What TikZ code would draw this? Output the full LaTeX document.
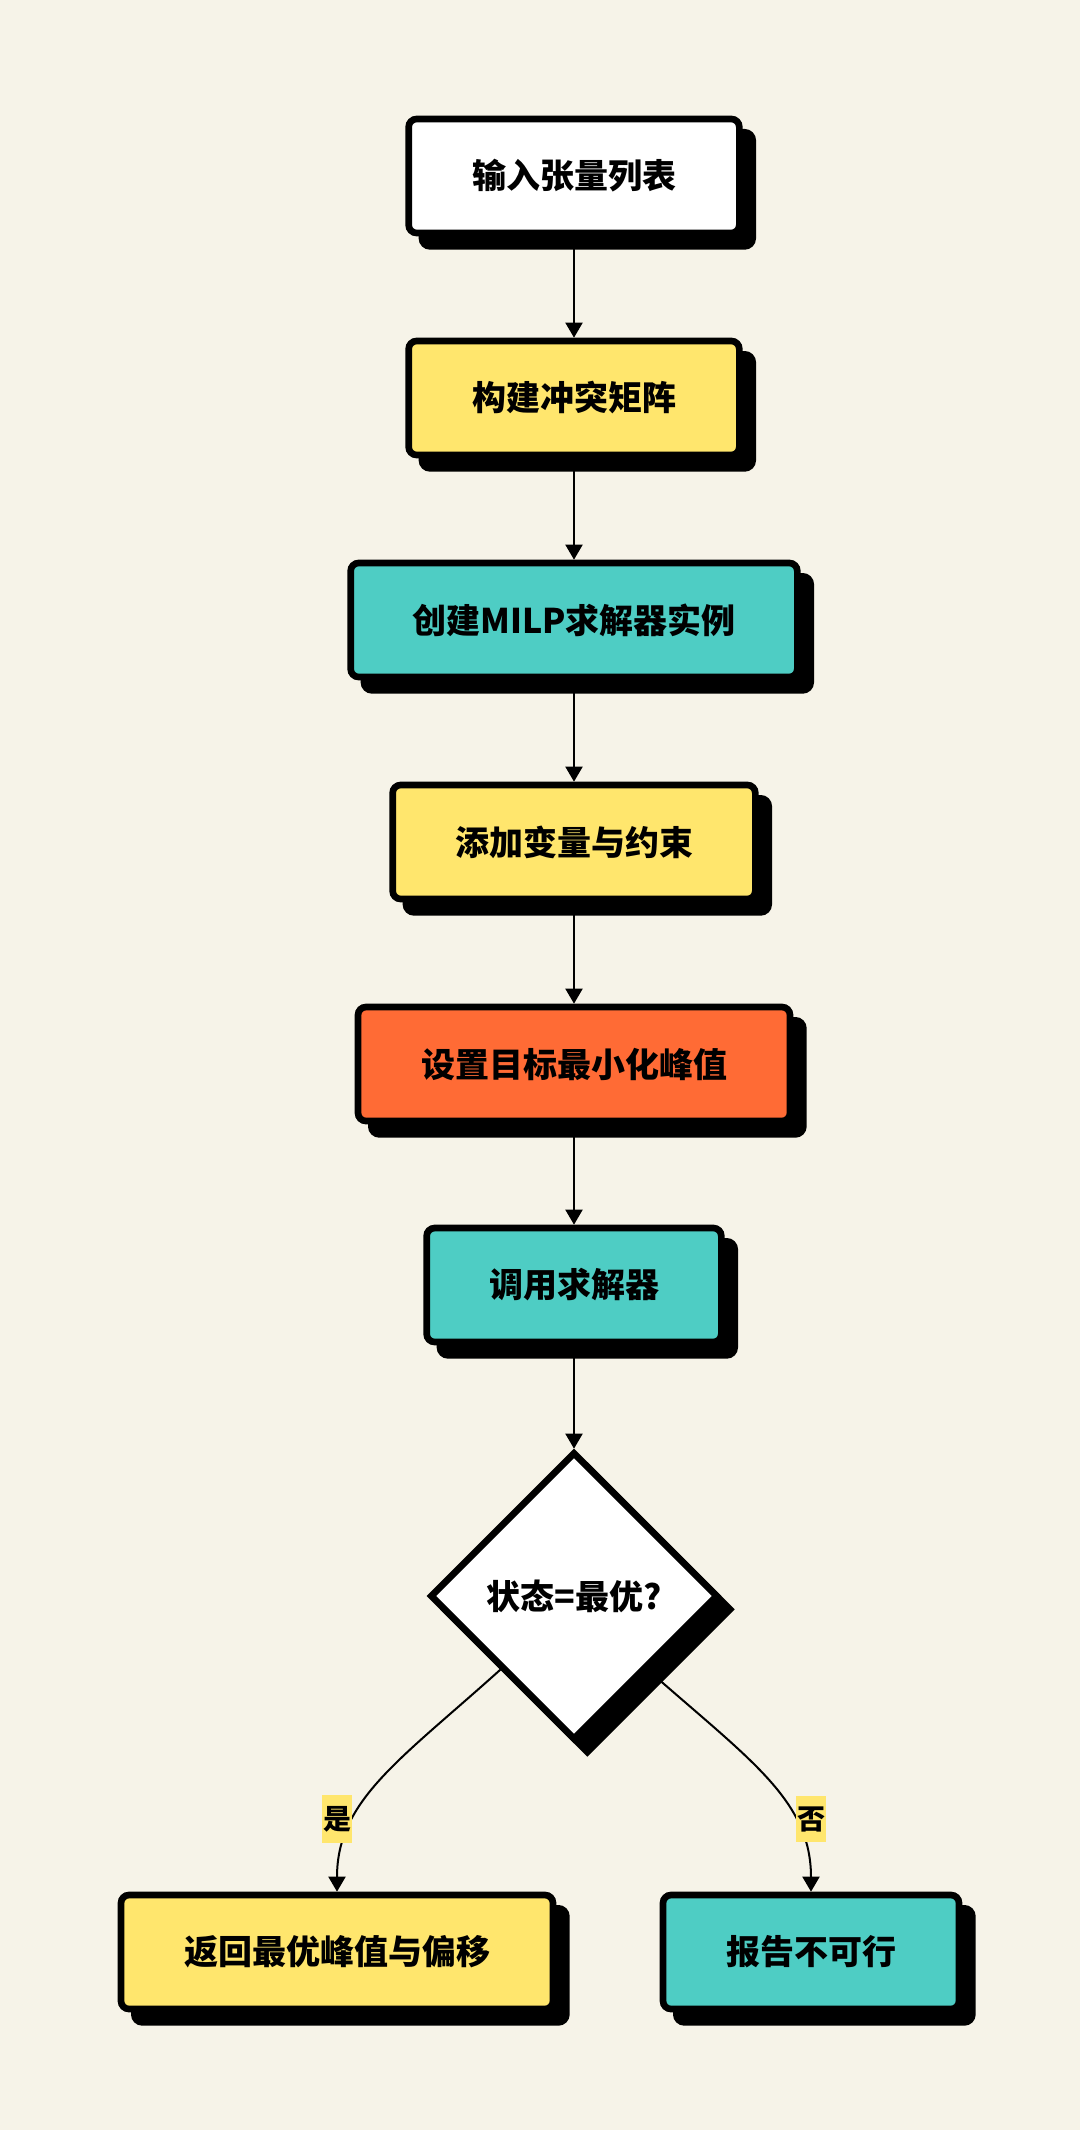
\documentclass[tikz,border=0pt]{standalone}
\usepackage{fontspec}
\newfontfamily\cjkfont{Noto Sans CJK SC}
\usetikzlibrary{shapes.geometric,shadows,arrows.meta}

\definecolor{bgcream}{RGB}{246,243,232}
\definecolor{boxyellow}{RGB}{255,230,109}
\definecolor{boxteal}{RGB}{78,205,196}
\definecolor{boxorange}{RGB}{255,107,53}

\tikzset{
  boxshadow/.style={drop shadow={shadow xshift=10pt, shadow yshift=-10pt, opacity=1, fill=black, draw=black, line width=5pt}},
  flowbox/.style={draw=black, line width=5pt, rounded corners=6pt, minimum height=85.5pt,
    inner sep=0pt, font=\cjkfont\bfseries\fontsize{25.5}{30}\selectfont, boxshadow},
  decbox/.style={diamond, aspect=1, draw=black, line width=5pt, fill=white, minimum size=216pt,
    inner sep=0pt, font=\cjkfont\bfseries\fontsize{25.5}{30}\selectfont, boxshadow},
  flowline/.style={draw=black, line width=1.5pt, -{Triangle[length=11.25pt, width=12.75pt]}},
  choicelabel/.style={fill=boxyellow, inner xsep=1pt, inner ysep=8pt,
    font=\cjkfont\bfseries\fontsize{21}{24}\selectfont}
}

\begin{document}
\begin{tikzpicture}[x=0.75pt,y=0.75pt,yscale=-1,xscale=1]

%Background
\fill[bgcream] (0,0) rectangle (1080,2130);
\useasboundingbox (0,0) rectangle (1080,2130);

%Process boxes
\node[flowbox, fill=white, minimum width=248pt] (input) at (574,176) {输入张量列表};
\node[flowbox, fill=boxyellow, minimum width=248pt] (conflict) at (574,398) {构建冲突矩阵};
\node[flowbox, fill=boxteal, minimum width=335pt] (solver) at (574,620) {创建MILP求解器实例};
\node[flowbox, fill=boxyellow, minimum width=272pt] (vars) at (574,842) {添加变量与约束};
\node[flowbox, fill=boxorange, minimum width=324pt] (objective) at (574,1064) {设置目标最小化峰值};
\node[flowbox, fill=boxteal, minimum width=221pt] (call) at (574,1285) {调用求解器};

%Decision
\node[decbox] (status) at (574,1596) {状态=最优?};

%Results
\node[flowbox, fill=boxyellow, minimum width=324pt] (result) at (337,1952) {返回最优峰值与偏移};
\node[flowbox, fill=boxteal, minimum width=222pt] (infeasible) at (811,1952) {报告不可行};

%Straight arrows
\draw[flowline] (input) -- (conflict);
\draw[flowline] (conflict) -- (solver);
\draw[flowline] (solver) -- (vars);
\draw[flowline] (vars) -- (objective);
\draw[flowline] (objective) -- (call);
\draw[flowline] (call) -- (status);

%Curved arrows
\draw[flowline] (status.south west) .. controls (400,1760) and (337,1800) .. (result.north);
\draw[flowline] (status.south east) .. controls (750,1760) and (811,1800) .. (infeasible.north);

\node[choicelabel] (yes) at (337,1819) {是};
\node[choicelabel] (no) at (811,1819) {否};

\end{tikzpicture}
\end{document}
